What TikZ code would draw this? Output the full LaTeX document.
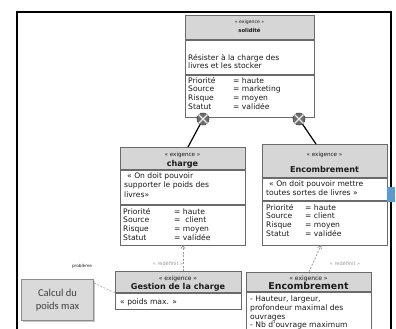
\documentclass[tikz,border=0pt]{standalone}
\usepackage{fontspec}
\setmainfont{DejaVu Sans}
\newfontfamily\notefont{Carlito}
\usetikzlibrary{arrows.meta,calc}

\definecolor{hdrgray}{HTML}{D6D6D6}
\definecolor{edgegray}{HTML}{6A6A6A}
\definecolor{inkgray}{HTML}{1A1A1A}
\definecolor{linkgray}{HTML}{9C9C9C}
\definecolor{notegray}{HTML}{DADADA}
\definecolor{noteedge}{HTML}{8C8C8C}
\definecolor{noteink}{HTML}{404040}
\definecolor{knobgray}{HTML}{6C6C6C}
\definecolor{tabblue}{HTML}{5B9BD5}

\tikzset{
  hdr/.style={rectangle, draw=edgegray, fill=hdrgray, line width=0.8, inner sep=0},
  cmp/.style={rectangle, draw=edgegray, fill=white, line width=0.8, inner sep=0},
  txt/.style={inner sep=0, text=inkgray, font=\fontsize{7.6}{9}\selectfont},
  stereo/.style={inner sep=0, text=inkgray, font=\fontsize{5.6}{6}\selectfont},
  ttl/.style={inner sep=0, text=inkgray, font=\bfseries\fontsize{8.1}{9}\selectfont},
  contain/.style={draw=black, line width=1.2},
  knob/.style={circle, fill=knobgray, draw=knobgray!70!black, line width=0.6, minimum size=12, inner sep=0},
  redef/.style={draw=linkgray, line width=0.8, dash pattern=on 2pt off 1.5pt, -{Straight Barb[length=2.5pt,width=4pt]}},
  redeflbl/.style={inner sep=0, text=linkgray, font=\fontsize{5}{6}\selectfont},
  probl/.style={draw=linkgray!80, line width=0.7, dash pattern=on 2pt off 1.5pt},
  note/.style={rectangle, draw=noteedge, fill=notegray, line width=0.9, inner sep=0},
}

\begin{document}
\begin{tikzpicture}[x=1pt,y=-1pt]
\useasboundingbox (0,0) rectangle (396,329);
\clip (0,0) rectangle (396,329);
\fill[white] (0,0) rectangle (396,329);

% outer frame
\draw[line width=1.5] (17,340) -- (17,12) -- (391,12) -- (391,340);

% ---------- solidité ----------
\node[hdr, minimum width=129, minimum height=24, anchor=north west] (solh) at (185,15) {};
\node[cmp, minimum width=129, minimum height=34, anchor=north] (sold) at (solh.south) {};
\node[cmp, minimum width=129, minimum height=42, anchor=north] (sola) at (sold.south) {};
\node[stereo, font=\fontsize{4.6}{5}\selectfont, anchor=base] (solst) at (249.5,24) {« exigence »};
\node[ttl, font=\bfseries\fontsize{5.3}{6}\selectfont, anchor=base] (solt) at (249.5,33) {solidité};
\node[txt, anchor=base west] (sold1) at (188,60) {Résister à la charge des};
\node[txt, anchor=base west] (sold2) at (188,69) {livres et les stocker};
\foreach \k/\v [count=\i from 0] in {Priorité/haute, Source/marketing, Risque/moyen, Statut/validée} {
  \node[txt, anchor=base west] (solk\i) at (188, 83+8.7*\i) {\k};
  \node[txt, anchor=base west] (solv\i) at (233, 83+8.7*\i) {= \v};
}

% ---------- charge ----------
\node[hdr, minimum width=125, minimum height=22, anchor=north west] (chgh) at (120,147) {};
\node[cmp, minimum width=125, minimum height=34, anchor=north] (chgd) at (chgh.south) {};
\node[cmp, minimum width=125, minimum height=40, anchor=north] (chga) at (chgd.south) {};
\node[stereo, anchor=base] (chgst) at (182.5,156) {« exigence »};
\node[ttl, anchor=base] (chgt) at (182.5,166) {charge};
\node[txt, anchor=base west] (chgd1) at (127,178) {« On doit pouvoir};
\node[txt, anchor=base west] (chgd2) at (124,187.5) {supporter le poids des};
\node[txt, anchor=base west] (chgd3) at (124,197) {livres»};
\foreach \k/\v [count=\i from 0] in {Priorité/= haute, Source/=\ \ client, Risque/= moyen, Statut/= validée} {
  \node[txt, anchor=base west] (chgk\i) at (123, 214+8.8*\i) {\k};
  \node[txt, anchor=base west] (chgv\i) at (174, 214+8.8*\i) {\v};
}

% ---------- Encombrement ----------
\node[hdr, minimum width=125, minimum height=33, anchor=north west] (ench) at (262,144) {};
\node[cmp, minimum width=125, minimum height=22, anchor=north] (encd) at (ench.south) {};
\node[cmp, minimum width=125, minimum height=44, anchor=north] (enca) at (encd.south) {};
\node[stereo, anchor=base] (encst) at (324.5,156) {« exigence »};
\node[ttl, anchor=base] (enct) at (324.5,172) {Encombrement};
\node[txt, anchor=base west] (encd1) at (269,186) {« On doit pouvoir mettre};
\node[txt, anchor=base west] (encd2) at (266,195) {toutes sortes de livres »};
\foreach \k/\v [count=\i from 0] in {Priorité/haute, Source/client, Risque/moyen, Statut/validée} {
  \node[txt, anchor=base west] (enck\i) at (266, 210+8.8*\i) {\k};
  \node[txt, anchor=base west] (encv\i) at (305, 210+8.8*\i) {= \v};
}

% ---------- Gestion de la charge ----------
\node[hdr, minimum width=126, minimum height=21, anchor=north west] (gesh) at (115,271) {};
\node[cmp, minimum width=126, minimum height=16, anchor=north] (gesd) at (gesh.south) {};
\node[stereo, font=\fontsize{6}{7}\selectfont, anchor=base] (gesst) at (178,280) {« exigence »};
\node[ttl, anchor=base] (gest) at (178,289.5) {Gestion de la charge};
\node[txt, anchor=base west] (gesd1) at (120,304) {« poids max. »};

% ---------- Encombrement (detail) ----------
\node[hdr, minimum width=125, minimum height=19, anchor=north west] (bench) at (246,272) {};
\node[cmp, minimum width=125, minimum height=60, anchor=north] (bencd) at (bench.south) {};
\node[stereo, font=\fontsize{6}{7}\selectfont, anchor=base] (bencst) at (308.5,280) {« exigence »};
\node[ttl, font=\bfseries\fontsize{9.4}{10}\selectfont, anchor=base] (benct) at (308.5,289.5) {Encombrement};
\node[txt, anchor=base west] (bencd1) at (250,301.5) {- Hauteur, largeur,};
\node[txt, anchor=base west] (bencd2) at (250,310.3) {profondeur maximal des};
\node[txt, anchor=base west] (bencd3) at (250,319.1) {ouvrages};
\node[txt, anchor=base west] (bencd4) at (250,327.5) {- Nb d'ouvrage maximum};

% ---------- containment ----------
\node[knob] (k1) at (203,119) {};
\node[knob] (k2) at (299,119) {};
\foreach \k in {k1,k2} {
  \draw[white!85!gray, line width=1.1] (\k.north east) -- (\k.south west) (\k.north west) -- (\k.south east);
}
\coordinate (chgin) at (188,147);
\coordinate (encin) at (316,144);
\draw[contain] (k1) -- (chgin);
\draw[contain] (k2) -- (encin);

% ---------- redefinitions ----------
\draw[redef] (gesh.north -| chga.south) -- (chga.south);
\node[redeflbl] (rd1) at (168,264) {« redéfinit »};
\draw[redef] (bench.north) -- ($(enca.south)+(-4,0)$);
\node[redeflbl] (rd2) at (345,264) {« redéfinit »};

% ---------- problem note ----------
\fill[black!22] (22.5,280.5) rectangle (95,321.5);
\node[note, minimum width=72, minimum height=41, anchor=north west] (calcbox) at (21,279) {};
\node[inner sep=0, text=noteink, align=center, font=\notefont\fontsize{10.5}{13}\selectfont] (calctxt) at (calcbox.center) {Calcul du\\poids max};
\draw[probl] ($(calcbox.north east)+(0,4)$) -- (gesh.south west);
\node[inner sep=0, text=inkgray, font=\fontsize{4.2}{5}\selectfont] (pbl) at (82,266) {problème};

% side tab
\fill[tabblue] (387,187) rectangle (395,202);
\end{tikzpicture}
\end{document}
